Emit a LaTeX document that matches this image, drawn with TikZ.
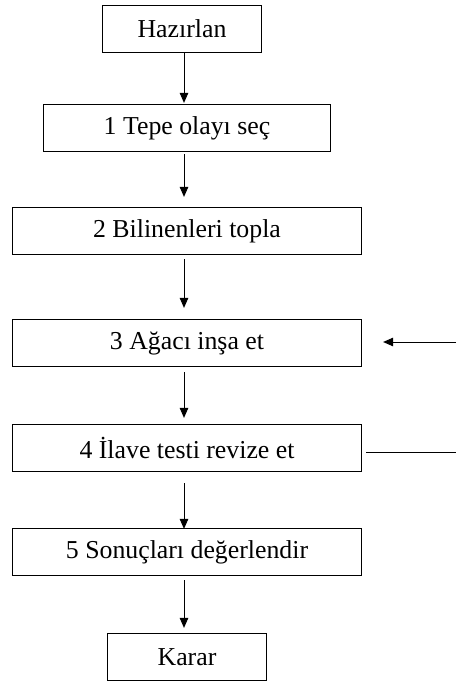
\documentclass[tikz,border=0pt]{standalone}
\usepackage{fontspec}
\setmainfont{Liberation Serif}
\usetikzlibrary{arrows.meta}
\begin{document}
\begin{tikzpicture}[x=1pt,y=-1pt,
  stepbox/.style={draw=black,line width=1.2pt,rectangle,inner sep=0pt,
    minimum height=47pt,font=\fontsize{25.8}{30}\selectfont},
  arr/.style={draw=black,line width=1pt,-{Triangle[length=10pt,width=8.5pt]}},
  plain/.style={draw=black,line width=1pt}]
  \useasboundingbox (0,0) rectangle (456,682);
  % process steps
  \node[stepbox,minimum width=159pt] (h)  at (182,29)  {Hazırlan};
  \node[stepbox,minimum width=287pt] (s1) at (187,128) {1 Tepe olayı seç};
  \node[stepbox,minimum width=349pt] (s2) at (187,231) {2 Bilinenleri topla};
  \node[stepbox,minimum width=349pt] (s3) at (187,343) {3 Ağacı inşa et};
  \node[stepbox,minimum width=349pt] (s4) at (187,448) {4 İlave testi revize et};
  \node[stepbox,minimum width=349pt] (s5) at (187,552) {5 Sonuçları değerlendir};
  \node[stepbox,minimum width=159pt] (k)  at (187,657) {Karar};
  % arrow column and right-hand feedback edge
  \coordinate (ax) at (184,0);
  \coordinate (fb) at (456,0);
  \draw[arr,shorten >=1pt] (h.south -| ax) -- (s1.north -| ax);
  \draw[arr,shorten <=2pt,shorten >=10pt] (s1.south -| ax) -- (s2.north -| ax);
  \draw[arr,shorten <=4pt,shorten >=11pt] (s2.south -| ax) -- (s3.north -| ax);
  \draw[arr,shorten <=5pt,shorten >=6pt] (s3.south -| ax) -- (s4.north -| ax);
  \draw[arr,shorten <=11pt,shorten >=-1pt] (s4.south -| ax) -- (s5.north -| ax);
  \draw[arr,shorten <=4pt,shorten >=5pt] (s5.south -| ax) -- (k.north -| ax);
  % feedback from step 4 back into step 3
  \draw[plain,shorten <=4pt] ([yshift=-4pt]s4.east) -- ([yshift=-4pt]s4.east -| fb);
  \draw[arr,shorten >=21pt] ([yshift=1pt]s3.east -| fb) -- ([yshift=1pt]s3.east);
\end{tikzpicture}
\end{document}
